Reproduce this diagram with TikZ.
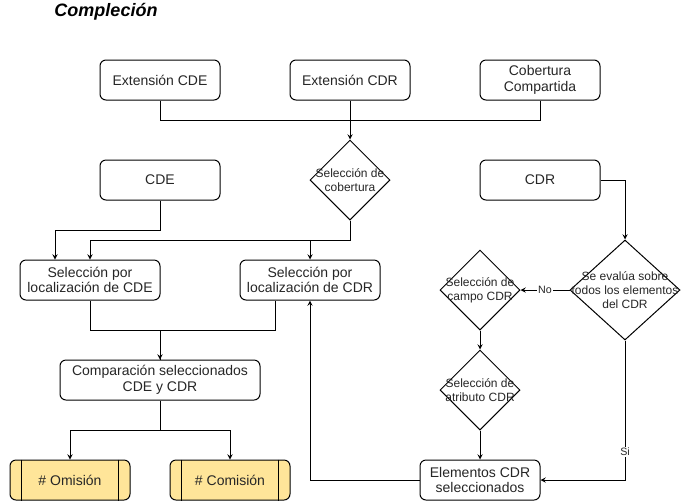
\documentclass[tikz,border=0pt]{standalone}
\usepackage{fontspec}
\setmainfont{Liberation Sans}
\usepackage{xcolor}
\usepackage{tikz}
\usetikzlibrary{shapes.geometric, arrows, positioning, calc}
\definecolor{procfill}{HTML}{FFE599}
\tikzstyle{arrow} = [->,>=stealth]
\tikzstyle{box} = [draw, rounded corners=4.5pt, minimum width=90pt, minimum height=30pt, align=center, font=\fontsize{10.5}{11.6}\selectfont, text=black!85]
\tikzstyle{wbox} = [box, minimum width=105pt]
\tikzstyle{proc} = [box, fill=procfill]
\tikzstyle{decision} = [draw, diamond, inner sep=0pt, minimum width=60pt, minimum height=60pt]
\tikzstyle{dtext} = [align=center, inner sep=0pt, font=\fontsize{9}{10.6}\selectfont, text=black!85]
\tikzstyle{lbl} = [fill=white, inner sep=1pt, font=\fontsize{8}{9}\selectfont, text=black!85]

\begin{document}
\begin{tikzpicture}[x=0.75pt, y=-0.75pt, line width=0.75pt]
\useasboundingbox (0,0) rectangle (681,501);

% Title
\node[font=\fontsize{13.5}{16}\selectfont\bfseries\itshape] (titulo) at (106,12) {Compleción};

% Entradas
\node[box] (extcde) at (160,80) {Extensión CDE};
\node[box] (extcdr) at (350,80) {Extensión CDR};
\node[box] (cobcomp) at (540,80) {Cobertura\\Compartida};
\node[box] (cde) at (160,180) {CDE};
\node[box] (cdr) at (540,180) {CDR};

% Selección de cobertura
\node[decision, label={[dtext]center:{Selección de\\cobertura}}] (selcob) at (350,180) {};
\coordinate (union) at (350,120);
\draw (extcde.south) |- (union);
\draw (cobcomp.south) |- (union);
\draw[arrow] (extcdr.south) -- (selcob.north);

% Selección por localización
\node[wbox] (selcde) at (90,280) {Selección por\\localización de CDE};
\node[wbox] (selcdr) at (310,280) {Selección por\\localización de CDR};
\draw[arrow] (cde.south) -- ++(0,30) -| ($(selcde.north)+(-35,0)$);
\draw[arrow] (selcob.south) -- ++(0,20) -| (selcde.north);
\draw[arrow] (selcob.south) -- ++(0,20) -| (selcdr.north);

% Comparación
\node[box, minimum width=150pt] (comp) at (160,380) {Comparación seleccionados\\CDE y CDR};
\draw[arrow] (selcde.south) -- ++(0,30) -| (comp.north);
\draw ($(selcdr.south)+(-35,0)$) -- ++(0,30) -| (comp.north);

% Resultados
\node[proc] (omision) at (70,480) {\# Omisión};
\node[proc] (comision) at (230,480) {\# Comisión};
\foreach \p in {omision, comision} {
  \draw ($(\p.north west)+(12,0)$) -- ($(\p.south west)+(12,0)$);
  \draw ($(\p.north east)+(-12,0)$) -- ($(\p.south east)+(-12,0)$);
}
\draw[arrow] (comp.south) -- ++(0,30) -| (omision.north);
\draw[arrow] (comp.south) -- ++(0,30) -| (comision.north);

% Rama CDR
\node[decision, minimum width=82.5pt, minimum height=75pt, label={[dtext]center:{Se evalúa sobre\\todos los elementos\\del CDR}}] (evalua) at (625,290) {};
\node[decision, label={[dtext]center:{Selección de\\campo CDR}}] (campo) at (480,290) {};
\node[decision, label={[dtext]center:{Selección de\\atributo CDR}}] (atributo) at (480,390) {};
\node[box] (elementos) at (480,480) {Elementos CDR\\seleccionados};
\draw[arrow] (cdr.east) -| (evalua.north);
\draw[arrow] (evalua.west) -- node[lbl] {No} (campo.east);
\draw[arrow] (campo.south) -- (atributo.north);
\draw[arrow] (atributo.south) -- (elementos.north);
\draw[arrow] (evalua.south) |- node[lbl, pos=0.4] {Si} (elementos.east);
\draw[arrow] (elementos.west) -| (selcdr.south);
\end{tikzpicture}
\end{document}
